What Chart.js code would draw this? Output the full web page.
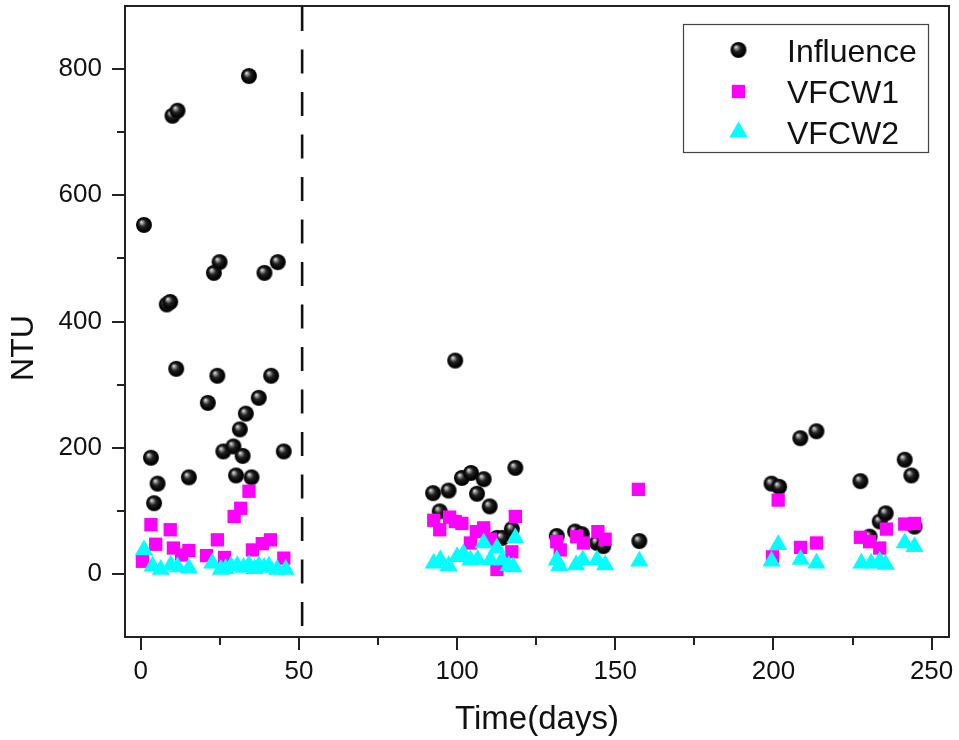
<!DOCTYPE html>
<html>
<head>
<meta charset="utf-8">
<script src="https://cdn.jsdelivr.net/npm/chart.js@4"></script>
<style>
  html, body { margin: 0; padding: 0; background: #fff; }
  #wrap { width: 959px; height: 740px; }
</style>
</head>
<body>
<div id="wrap"><canvas id="c" width="959" height="740"></canvas></div>
<script>
// ---- Data ----
const seriesNames = ['Influence', 'VFCW1', 'VFCW2'];

const influenceDays = [1, 3.2, 4.2, 5.3, 8.2, 9.3, 10, 11.2, 11.6, 15.2, 21.2, 23.1, 24.2, 24.9, 26.1, 29.3, 30.1, 31.3, 32.2, 33.2, 34.2, 35, 37.3, 39.1, 41.2, 43.3, 45.2,
  92.4, 94.5, 97.3, 99.4, 101.5, 104.4, 106.3, 108.4, 110.3, 112.6, 114.2, 117.3, 118.4,
  131.5, 137.3, 139.4, 144.2, 146.2, 157.6,
  199.4, 201.8, 208.5, 213.6, 227.5, 230.4, 233.6, 235.5, 241.5, 243.6, 244.6];
const influenceNTU = [553, 184, 112, 143, 427, 431, 726, 325, 734, 153, 271, 477, 314, 494, 194, 202, 156, 229, 187, 254, 789, 153, 279, 477, 314, 494, 194,
  128, 99, 132, 338, 152, 160, 127, 150, 107, 57, 57, 71, 168,
  60, 67, 63, 49, 44, 52,
  143, 138, 215, 226, 147, 59, 83, 96, 181, 156, 75];

const vfcw1Days = [0.5, 3.2, 4.7, 9.3, 10.3, 12.9, 15.2, 20.8, 24.2, 26.5, 29.5, 31.6, 34.2, 35.3, 38.4, 41, 45.2,
  92.6, 94.5, 97.6, 99.4, 101.5, 104.2, 106.1, 108.4, 110.5, 112.6, 117.3, 118.4,
  131.5, 132.6, 137.8, 139.9, 144.5, 146.8, 157.3,
  199.7, 201.5, 208.6, 213.6, 227.5, 230.4, 233.6, 235.7, 241.5, 244.6];
const vfcw1NTU = [20, 78, 47, 70, 41, 30, 37, 29, 54, 26, 91, 104, 131, 38, 48, 54, 25,
  85, 70, 90, 83, 80, 49, 67, 73, 55, 7, 35, 91,
  51, 38, 59, 49, 67, 55, 134,
  27, 117, 42, 49, 58, 51, 41, 71, 79, 80];

const vfcw2Days = [1, 3.7, 6.3, 9.5, 11.6, 15.2, 22.6, 25.3, 26.8, 28.5, 30.5, 32.5, 34.2, 36, 37.3, 39, 40.5, 43.1, 45.8,
  92.6, 94.7, 97.3, 100, 102, 104.2, 106.5, 108.4, 110.5, 112.6, 114.2, 116.3, 117.8, 118.4,
  131.5, 132.3, 137.6, 139.7, 144.2, 146.8, 157.6,
  199.4, 201.5, 208.6, 213.6, 227.8, 230.9, 233.6, 235.5, 241.5, 244.6];
const vfcw2NTU = [38, 12, 7, 14, 11, 9, 17, 7, 8, 12, 13, 10, 14, 8, 13, 10, 12, 7, 7,
  17, 22, 13, 27, 32, 22, 23, 49, 22, 41, 22, 13, 11, 57,
  22, 13, 14, 22, 22, 14, 20,
  20, 46, 23, 17, 17, 17, 20, 15, 49, 43];

const xTickLabels = [0, 50, 100, 150, 200, 250];
const yTickLabels = [0, 200, 400, 600, 800];
const dividerDay = 51;

// ---- Marker: glossy black sphere ----
function makeSphere(r) {
  const s = Math.ceil(r * 2 + 2);
  const cv = document.createElement('canvas');
  cv.width = s; cv.height = s;
  const g = cv.getContext('2d');
  const c = s / 2;
  const base = g.createRadialGradient(c - r * 0.35, c - r * 0.4, 0, c, c, r);
  base.addColorStop(0, '#f2f2f2');
  base.addColorStop(0.18, '#9a9a9a');
  base.addColorStop(0.45, '#222');
  base.addColorStop(0.85, '#000');
  base.addColorStop(1, '#1a1a1a');
  g.beginPath();
  g.arc(c, c, r, 0, Math.PI * 2);
  g.fillStyle = base;
  g.fill();
  return cv;
}
const sphere = makeSphere(8);

function toPts(xs, ys) { return xs.map((x, i) => ({ x: x, y: ys[i] })); }

const FONT = "'Liberation Sans', Arial, sans-serif";

const decor = {
  id: 'decor',
  afterDraw(chart) {
    const ctx = chart.ctx;
    const a = chart.chartArea;
    const xs = chart.scales.x, ys = chart.scales.y;
    ctx.save();
    // dashed divider
    const dx = xs.getPixelForValue(dividerDay);
    ctx.strokeStyle = '#111';
    ctx.lineWidth = 2.6;
    ctx.setLineDash([24, 18.5]);
    ctx.beginPath();
    ctx.moveTo(dx, a.top + 1);
    ctx.lineTo(dx, a.bottom);
    ctx.stroke();
    ctx.setLineDash([]);
    // frame
    ctx.strokeStyle = '#222';
    ctx.lineWidth = 2;
    ctx.strokeRect(a.left, a.top, a.right - a.left, a.bottom - a.top);
    // x ticks (major 50, minor 25)
    ctx.lineWidth = 2;
    for (let v = 0; v <= 250; v += 25) {
      const px = Math.round(xs.getPixelForValue(v)) ;
      const len = (v % 50 === 0) ? 13 : 8;
      ctx.beginPath();
      ctx.moveTo(px, a.bottom);
      ctx.lineTo(px, a.bottom + len);
      ctx.stroke();
    }
    // y ticks (major 200, minor 100)
    for (let v = 0; v <= 800; v += 100) {
      const py = Math.round(ys.getPixelForValue(v));
      const len = (v % 200 === 0) ? 13 : 8;
      ctx.beginPath();
      ctx.moveTo(a.left, py);
      ctx.lineTo(a.left - len, py);
      ctx.stroke();
    }
    // y title
    ctx.save();
    ctx.translate(24, 348);
    ctx.rotate(-Math.PI / 2);
    ctx.fillStyle = '#111';
    ctx.font = '32px ' + FONT;
    ctx.textAlign = 'center';
    ctx.textBaseline = 'middle';
    ctx.fillText('NTU', 0, 0);
    ctx.restore();
    // legend
    ctx.strokeStyle = '#444';
    ctx.lineWidth = 1.2;
    ctx.strokeRect(683.5, 24.5, 245, 128);
    const baselines = [61.5, 103, 144];
    const centers = [50, 91.5, 132];
    ctx.font = '32px ' + FONT;
    ctx.fillStyle = '#111';
    ctx.textAlign = 'left';
    ctx.textBaseline = 'alphabetic';
    chart.data.datasets.forEach((ds, i) => {
      const mx = 738.5, my = centers[i];
      ctx.save();
      if (ds.pointStyle instanceof HTMLCanvasElement) {
        ctx.drawImage(ds.pointStyle, mx - ds.pointStyle.width / 2, my - ds.pointStyle.height / 2);
      } else if (ds.pointStyle === 'rect') {
        const h = Math.SQRT1_2 * ds.pointRadius;
        ctx.fillStyle = ds.backgroundColor;
        ctx.fillRect(mx - h, my - h, 2 * h, 2 * h);
      } else if (ds.pointStyle === 'triangle') {
        const r = ds.pointRadius;
        ctx.fillStyle = ds.backgroundColor;
        ctx.beginPath();
        ctx.moveTo(mx, my - r);
        ctx.lineTo(mx + r * Math.sin(2 * Math.PI / 3), my - r * Math.cos(2 * Math.PI / 3));
        ctx.lineTo(mx + r * Math.sin(4 * Math.PI / 3), my - r * Math.cos(4 * Math.PI / 3));
        ctx.closePath();
        ctx.fill();
      }
      ctx.restore();
      ctx.fillText(ds.label, 787, baselines[i]);
    });
    ctx.restore();
  }
};

new Chart(document.getElementById('c'), {
  type: 'scatter',
  data: {
    datasets: [
      { label: seriesNames[0], data: toPts(influenceDays, influenceNTU), pointStyle: sphere, pointRadius: 8, pointHoverRadius: 8, backgroundColor: '#000', borderWidth: 0, order: 3 },
      { label: seriesNames[1], data: toPts(vfcw1Days, vfcw1NTU), pointStyle: 'rect', pointRadius: 9.4, pointHoverRadius: 9.4, backgroundColor: '#ff00ff', borderColor: '#ff00ff', borderWidth: 0, order: 2 },
      { label: seriesNames[2], data: toPts(vfcw2Days, vfcw2NTU), pointStyle: 'triangle', pointRadius: 10.5, pointHoverRadius: 10.5, backgroundColor: '#00ffff', borderColor: '#00ffff', borderWidth: 0, order: 1 }
    ]
  },
  options: {
    responsive: false,
    animation: false,
    devicePixelRatio: 1,
    layout: { autoPadding: false, padding: { top: 6, right: 10, left: 0, bottom: 0 } },
    plugins: { legend: { display: false }, tooltip: { enabled: false } },
    scales: {
      x: {
        type: 'linear',
        min: -5, max: 255.5,
        border: { display: false },
        grid: { display: false, drawTicks: false },
        ticks: {
          stepSize: 25, includeBounds: false, autoSkip: false, maxRotation: 0,
          padding: 19,
          color: '#111',
          font: { family: FONT, size: 26 },
          callback: (v) => xTickLabels.includes(v) ? String(v) : ''
        },
        title: { display: true, text: 'Time(days)', color: '#111', font: { family: FONT, size: 33 }, padding: { top: 0, bottom: 0 } },
        afterFit: (s) => { s.height = 103; s.paddingLeft = 0; s.paddingRight = 0; }
      },
      y: {
        type: 'linear',
        min: -100, max: 900,
        border: { display: false },
        grid: { display: false, drawTicks: false },
        ticks: {
          stepSize: 100, includeBounds: false, autoSkip: false,
          padding: 23,
          color: '#111',
          font: { family: FONT, size: 26 },
          callback: (v) => yTickLabels.includes(v) ? String(v) : ''
        },
        title: { display: false },
        afterFit: (s) => { s.width = 125; s.paddingTop = 0; s.paddingBottom = 0; }
      }
    }
  },
  plugins: [decor]
});
</script>
</body>
</html>
